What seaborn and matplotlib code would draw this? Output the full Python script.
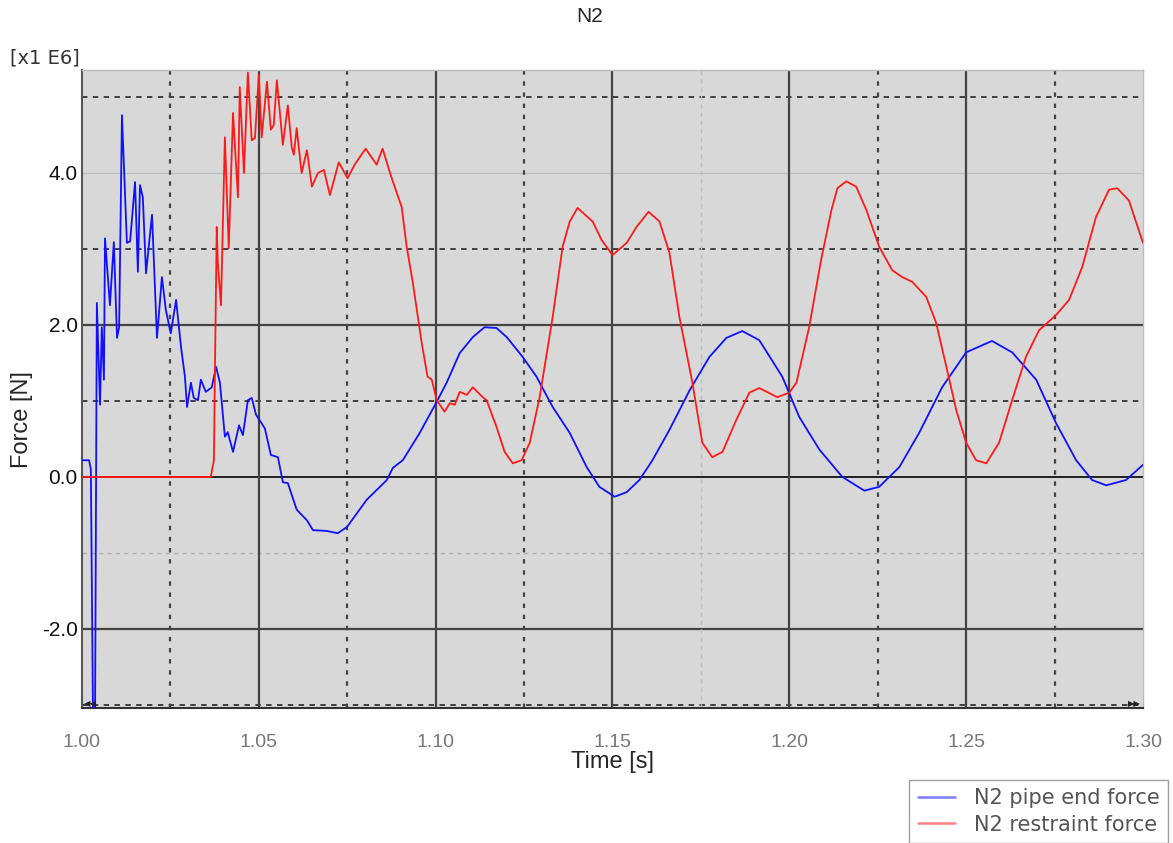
import numpy as np
import pandas as pd
import matplotlib
matplotlib.use("Agg")
import matplotlib.pyplot as plt
import seaborn as sns

# values (time in s, force in 1E6 N)
pipe_t = [1.0000, 1.0020, 1.0025, 1.0031, 1.0037, 1.0042, 1.0051, 1.0056, 1.0062, 1.0065,
          1.0079, 1.0090, 1.0099, 1.0105, 1.0113, 1.0127, 1.0136, 1.0150, 1.0158, 1.0164,
          1.0172, 1.0181, 1.0198, 1.0212, 1.0226, 1.0237, 1.0251, 1.0266, 1.0280, 1.0291,
          1.0297, 1.0308, 1.0316, 1.0328, 1.0336, 1.0350, 1.0367, 1.0379, 1.0390, 1.0404,
          1.0412, 1.0427, 1.0444, 1.0455, 1.0469, 1.0480, 1.0492, 1.0517, 1.0534, 1.0554,
          1.0568, 1.0582, 1.0607, 1.0636, 1.0653, 1.0692, 1.0723, 1.0749, 1.0805, 1.0862,
          1.0879, 1.0907, 1.0955, 1.1003, 1.1031, 1.1068, 1.1105, 1.1138, 1.1172, 1.1201,
          1.1246, 1.1285, 1.1331, 1.1379, 1.1427, 1.1463, 1.1506, 1.1540, 1.1576, 1.1613,
          1.1661, 1.1718, 1.1774, 1.1822, 1.1867, 1.1915, 1.1980, 1.2028, 1.2085, 1.2150,
          1.2212, 1.2254, 1.2311, 1.2367, 1.2432, 1.2500, 1.2573, 1.2630, 1.2698, 1.2754,
          1.2811, 1.2856, 1.2896, 1.2952, 1.3000]
pipe_f = [0.22, 0.22, 0.10, -3.10, -3.10, 2.29, 0.95, 1.97, 1.28, 3.14,
          2.26, 3.09, 1.83, 1.97, 4.76, 3.08, 3.10, 3.88, 2.70, 3.84,
          3.68, 2.68, 3.45, 1.83, 2.63, 2.20, 1.89, 2.33, 1.71, 1.32,
          0.92, 1.24, 1.04, 1.01, 1.28, 1.12, 1.18, 1.45, 1.24, 0.53,
          0.59, 0.33, 0.68, 0.55, 1.01, 1.04, 0.82, 0.64, 0.29, 0.26,
          -0.07, -0.08, -0.43, -0.57, -0.70, -0.71, -0.74, -0.66, -0.30, -0.04,
          0.12, 0.22, 0.58, 0.99, 1.24, 1.63, 1.84, 1.97, 1.96, 1.84,
          1.58, 1.32, 0.92, 0.58, 0.13, -0.13, -0.26, -0.20, -0.04, 0.22,
          0.62, 1.14, 1.58, 1.83, 1.92, 1.80, 1.32, 0.79, 0.36, 0.00,
          -0.18, -0.13, 0.13, 0.58, 1.18, 1.64, 1.79, 1.64, 1.28, 0.71,
          0.22, -0.04, -0.11, -0.04, 0.16]

restr_t = [1.0000, 1.0364, 1.0373, 1.0376, 1.0381, 1.0384, 1.0393, 1.0404, 1.0415, 1.0427,
           1.0441, 1.0446, 1.0458, 1.0469, 1.0480, 1.0489, 1.0500, 1.0508, 1.0523, 1.0534,
           1.0542, 1.0551, 1.0568, 1.0582, 1.0593, 1.0599, 1.0607, 1.0621, 1.0636, 1.0650,
           1.0667, 1.0684, 1.0701, 1.0726, 1.0751, 1.0771, 1.0802, 1.0833, 1.0850, 1.0873,
           1.0904, 1.0918, 1.0935, 1.0960, 1.0977, 1.0989, 1.1003, 1.1025, 1.1040, 1.1054,
           1.1068, 1.1088, 1.1105, 1.1133, 1.1144, 1.1172, 1.1195, 1.1218, 1.1243, 1.1266,
           1.1294, 1.1331, 1.1359, 1.1379, 1.1401, 1.1444, 1.1469, 1.1500, 1.1540, 1.1568,
           1.1602, 1.1633, 1.1661, 1.1689, 1.1726, 1.1754, 1.1782, 1.1811, 1.1850, 1.1887,
           1.1915, 1.1966, 1.2000, 1.2020, 1.2056, 1.2090, 1.2119, 1.2136, 1.2161, 1.2189,
           1.2218, 1.2254, 1.2291, 1.2319, 1.2347, 1.2387, 1.2415, 1.2444, 1.2472, 1.2500,
           1.2528, 1.2557, 1.2593, 1.2630, 1.2669, 1.2706, 1.2754, 1.2791, 1.2828, 1.2867,
           1.2904, 1.2927, 1.2960, 1.3000]
restr_f = [0.00, 0.00, 0.22, 1.45, 3.29, 2.82, 2.26, 4.47, 3.01, 4.79,
           3.68, 5.13, 4.00, 5.32, 4.43, 4.46, 5.29, 4.47, 5.20, 4.57,
           4.63, 5.22, 4.37, 4.89, 4.34, 4.24, 4.59, 4.00, 4.30, 3.82,
           4.00, 4.04, 3.71, 4.14, 3.93, 4.11, 4.32, 4.11, 4.32, 3.97,
           3.55, 3.03, 2.57, 1.78, 1.32, 1.28, 1.01, 0.86, 0.97, 0.95,
           1.12, 1.08, 1.18, 1.05, 1.01, 0.66, 0.33, 0.18, 0.22, 0.45,
           1.05, 2.11, 3.03, 3.36, 3.54, 3.36, 3.12, 2.92, 3.08, 3.29,
           3.49, 3.36, 2.95, 2.11, 1.24, 0.45, 0.26, 0.33, 0.75, 1.11,
           1.17, 1.05, 1.11, 1.24, 1.97, 2.86, 3.51, 3.80, 3.89, 3.82,
           3.51, 3.03, 2.72, 2.63, 2.57, 2.37, 2.03, 1.45, 0.88, 0.45,
           0.22, 0.18, 0.45, 1.01, 1.58, 1.93, 2.13, 2.33, 2.76, 3.42,
           3.78, 3.80, 3.64, 3.08]

series_names = ["N2 pipe end force", "N2 restraint force"]
series_colors = ["#1010ff", "#ff1a1a"]

x_ticks = [1.00, 1.05, 1.10, 1.15, 1.20, 1.25, 1.30]
x_ticklabels = ["1.00", "1.05", "1.10", "1.15", "1.20", "1.25", "1.30"]
y_ticks = [-2.0, 0.0, 2.0, 4.0]
y_ticklabels = ["-2.0", "0.0", "2.0", "4.0"]

df = pd.concat([
    pd.DataFrame({"t": pipe_t, "f": pipe_f, "series": series_names[0]}),
    pd.DataFrame({"t": restr_t, "f": restr_f, "series": series_names[1]}),
])

sns.set_style("white")
plt.rcParams["font.family"] = ["Liberation Sans", "DejaVu Sans"]

fig = plt.figure(figsize=(11.73, 8.43), dpi=100)
ax = fig.add_axes([82 / 1173, 1 - 708 / 843, (1143 - 82) / 1173, (708 - 70) / 843])
ax.set_facecolor("#d8d8d8")

# grid, hand drawn to get the mixed styles of the original
ax.axhline(0.0, color="#111111", lw=1.3, zorder=1)
for y in [-2.0, 2.0]:
    ax.axhline(y, color="#444444", lw=1.6, zorder=1)
ax.axhline(4.0, color="#c0c0c0", lw=1.0, zorder=1)
for y in [-3.0, 1.0, 3.0, 5.0]:
    ax.axhline(y, color="#333333", lw=1.3, dashes=(3, 3), zorder=1)
ax.axhline(-1.0, color="#b0b0b0", lw=1.0, dashes=(3, 3), zorder=1)
for x in [1.05, 1.10, 1.15, 1.20, 1.25]:
    ax.axvline(x, color="#444444", lw=1.6, zorder=1)
for x in [1.025, 1.075, 1.125, 1.225, 1.275]:
    ax.axvline(x, color="#444444", lw=1.6, dashes=(2, 3), zorder=1)
ax.axvline(1.175, color="#c0c0c0", lw=1.0, dashes=(3, 3), zorder=1)

sns.lineplot(data=df, x="t", y="f", hue="series", palette=series_colors,
             estimator=None, sort=False, lw=1.3, ax=ax, zorder=3, legend=False)

ax.set_xlim(1.0, 1.3)
ax.set_ylim(-3.04, 5.355)
ax.set_xticks(x_ticks)
ax.set_xticklabels(x_ticklabels, color="#777777", fontsize=14)
ax.set_yticks(y_ticks)
ax.set_yticklabels(y_ticklabels, fontsize=15, color="#111111")
ax.tick_params(axis="x", length=0, pad=19)
ax.tick_params(axis="y", length=0, pad=3)
ax.grid(False)

for side, c in [("left", "#555555"), ("bottom", "#333333"), ("top", "#bbbbbb"), ("right", "#bbbbbb")]:
    ax.spines[side].set_visible(True)
    ax.spines[side].set_color(c)
    ax.spines[side].set_linewidth(1.5 if side in ("left", "bottom") else 1.0)

ax.set_xlabel("Time [s]", fontsize=17, labelpad=0)
ax.set_ylabel("")
fig.text(22 / 1173, 1 - 420 / 843, "Force [N]", rotation=90, ha="center", va="center", fontsize=17)
fig.text(590 / 1173, 1 - 16 / 843, "N2", ha="center", va="center", fontsize=15)
fig.text(10 / 1173, 1 - 58 / 843, "[x1 E6]", ha="left", va="center", fontsize=14,
         color="#333333", family="DejaVu Sans")

# little arrow markers at the axis ends
ax.text(0.002, 0.0, "◀◀", transform=ax.transAxes, fontsize=6, ha="left", va="bottom",
        family="DejaVu Sans", color="#222222")
ax.text(0.998, 0.0, "▶▶", transform=ax.transAxes, fontsize=6, ha="right", va="bottom",
        family="DejaVu Sans", color="#222222")

handles = [plt.Line2D([], [], color=c, lw=1.8, alpha=0.55) for c in series_colors]
leg = fig.legend(handles, series_names, loc="lower right", bbox_to_anchor=(1168 / 1173, 0.0),
                 bbox_transform=fig.transFigure, frameon=True, fancybox=False,
                 prop={"family": "DejaVu Sans", "size": 15},
                 edgecolor="#888888", handlelength=1.8, handletextpad=0.9,
                 borderpad=0.4, labelspacing=0.3, borderaxespad=0.0)
leg.get_frame().set_linewidth(1.0)
for txt in leg.get_texts():
    txt.set_color("#555555")

fig.savefig("out.png", dpi=100, facecolor="white")
